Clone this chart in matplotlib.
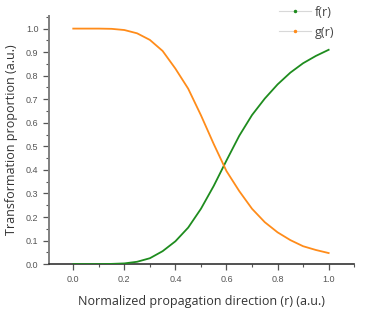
import matplotlib
matplotlib.use('Agg')
import matplotlib.pyplot as plt
from matplotlib.lines import Line2D
from matplotlib.ticker import MultipleLocator

# values
r = [0.0, 0.05, 0.1, 0.15, 0.2, 0.25, 0.3, 0.35, 0.4, 0.45, 0.5,
     0.55, 0.6, 0.65, 0.7, 0.75, 0.8, 0.85, 0.9, 0.95, 1.0]
f_r = [0.0, 0.0, 0.0, 0.001, 0.003, 0.01, 0.025, 0.055, 0.097, 0.155, 0.235,
       0.332, 0.44, 0.545, 0.633, 0.703, 0.763, 0.813, 0.853, 0.884, 0.91]
g_r = [1.0, 1.0, 1.0, 0.999, 0.994, 0.98, 0.952, 0.905, 0.83, 0.745, 0.632,
       0.51, 0.395, 0.31, 0.235, 0.178, 0.135, 0.102, 0.076, 0.06, 0.047]

green = '#1e8c1e'
orange = '#ff8c1a'

fig = plt.figure(figsize=(3.74, 3.10), dpi=100)
ax = fig.add_axes([0.131, 0.148, 0.816, 0.80])

ax.plot(r, f_r, color=green, lw=1.3, zorder=3)
ax.plot(r, g_r, color=orange, lw=1.3, zorder=3)

ax.set_xlim(-0.095, 1.1)
ax.set_ylim(0, 1.053)
ax.xaxis.set_major_locator(MultipleLocator(0.2))
ax.xaxis.set_minor_locator(MultipleLocator(0.1))
ax.yaxis.set_major_locator(MultipleLocator(0.1))
ax.yaxis.set_minor_locator(MultipleLocator(0.05))
ax.xaxis.set_major_formatter(plt.FormatStrFormatter('%.1f'))
ax.yaxis.set_major_formatter(plt.FormatStrFormatter('%.1f'))

for s in ['top', 'right']:
    ax.spines[s].set_visible(False)
ax.spines['left'].set_color('#808080')
ax.spines['left'].set_linewidth(1.4)
ax.spines['bottom'].set_color('#333333')
ax.spines['bottom'].set_linewidth(1.2)

ax.tick_params(which='major', direction='out', length=4, width=0.9,
               labelsize=6.5, labelcolor='#555555', color='#555555')
ax.tick_params(which='minor', direction='out', length=2.2, width=0.8,
               color='#555555')
for lab in ax.get_xticklabels() + ax.get_yticklabels():
    lab.set_family('Liberation Sans')

ax.set_xlabel('Normalized propagation direction (r) (a.u.)', fontsize=9,
              family='Open Sans', color='#333333', labelpad=8)
ax.set_ylabel('Transformation proportion (a.u.)', fontsize=9,
              family='Open Sans', color='#333333', labelpad=6)

handles = [
    Line2D([0], [0], color='#d8d8d8', lw=0.8, marker='.', markersize=3,
           markerfacecolor=green, markeredgecolor=green),
    Line2D([0], [0], color='#d8d8d8', lw=0.8, marker='.', markersize=3,
           markerfacecolor=orange, markeredgecolor=orange),
]
leg = fig.legend(handles, ['f(r)', 'g(r)'], loc='upper right',
                 bbox_to_anchor=(0.925, 1.018), frameon=False,
                 prop={'family': 'Open Sans', 'size': 9}, handlelength=2.6,
                 handletextpad=0.3, labelspacing=0.55)
for t in leg.get_texts():
    t.set_color('#444444')

fig.savefig('out.png', dpi=100)
